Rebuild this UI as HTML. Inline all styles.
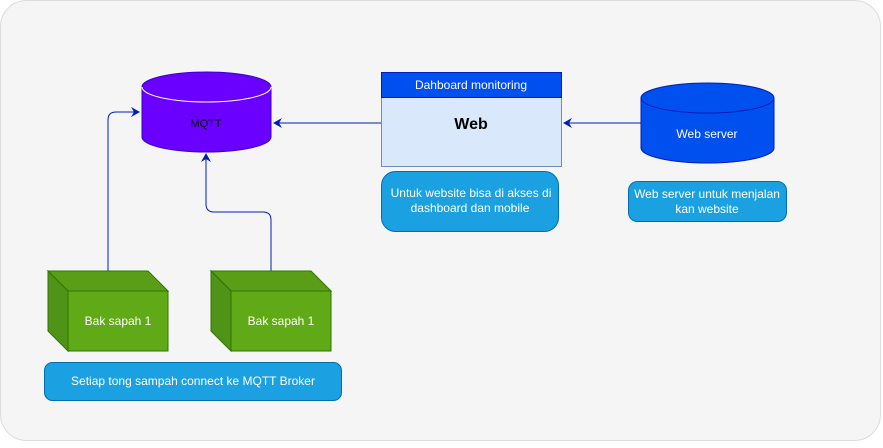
<!DOCTYPE html>
<html><head><style>
body{margin:0;width:883px;height:443px;background:#fff;overflow:hidden}
svg text{font-family:"Liberation Sans",Arial,sans-serif}
</style></head><body>
<svg width="883" height="443" xmlns="http://www.w3.org/2000/svg">
<defs><marker id="a" markerWidth="10" markerHeight="10" refX="8" refY="5" orient="auto" markerUnits="userSpaceOnUse"><path d="M0,0 L9,5 L0,10 L3,5 Z" fill="#001DBC"/></marker></defs>
<rect x="0.5" y="0.5" width="880" height="440" rx="26" fill="#f5f5f5" stroke="#dcdcdc"/>
<!-- MQTT -->
<path d="M142,87 A64.5,15 0 0 1 271,87 L271,137 A64.5,15 0 0 1 142,137 Z" fill="#6a00ff" stroke="#3700CC"/>
<path d="M142,87 A64.5,15 0 0 0 271,87" fill="none" stroke="#fff" stroke-width="1"/>
<text x="206" y="127" font-size="11" text-anchor="middle" fill="#000">MQTT</text>
<!-- connectors -->
<path d="M108,271 L108,120 Q108,112 116,112 L139,112" fill="none" stroke="#001DBC" stroke-width="1" marker-end="url(#a)"/>
<path d="M271,271 L271,220 Q271,212 263,212 L214,212 Q206,212 206,204 L206,154" fill="none" stroke="#001DBC" stroke-width="1" marker-end="url(#a)"/>
<path d="M381,123 L274,123" fill="none" stroke="#001DBC" stroke-width="1" marker-end="url(#a)"/>
<path d="M641,123 L564,123" fill="none" stroke="#001DBC" stroke-width="1" marker-end="url(#a)"/>
<!-- boxes -->
<g stroke="#2D7600">
<path d="M48,271 L148,271 L168,291 L68,291 Z" fill="#5a9e18"/>
<path d="M48,271 L68,291 L68,351 L48,331 Z" fill="#4f9416"/>
<rect x="68" y="291" width="100" height="60" fill="#60a917"/>
<path d="M211,271 L311,271 L331,291 L231,291 Z" fill="#5a9e18"/>
<path d="M211,271 L231,291 L231,351 L211,331 Z" fill="#4f9416"/>
<rect x="231" y="291" width="100" height="60" fill="#60a917"/>
</g>
<text x="118" y="325" font-size="12" text-anchor="middle" fill="#fff">Bak sapah 1</text>
<text x="281" y="325" font-size="12" text-anchor="middle" fill="#fff">Bak sapah 1</text>
<rect x="44.5" y="362.5" width="297" height="38" rx="8" fill="#1ba1e2" stroke="#006EAF"/>
<text x="193" y="385" font-size="12" text-anchor="middle" fill="#fff">Setiap tong sampah connect ke MQTT Broker</text>
<!-- Web -->
<rect x="381.5" y="72.5" width="180" height="94" fill="#dae8fc" stroke="#6c8ebf"/>
<rect x="381.5" y="72.5" width="180" height="25" fill="#0050ef" stroke="#001DBC"/>
<text x="471" y="89" font-size="12" text-anchor="middle" fill="#fff">Dahboard monitoring</text>
<text x="471" y="129" font-size="16" font-weight="bold" text-anchor="middle" fill="#000">Web</text>
<rect x="381.5" y="171.5" width="177" height="60" rx="14" fill="#1ba1e2" stroke="#006EAF"/>
<text x="471" y="197" font-size="12" text-anchor="middle" fill="#fff">Untuk website bisa di akses di</text>
<text x="470" y="212" font-size="12" text-anchor="middle" fill="#fff">dashboard dan mobile</text>
<!-- Web server -->
<path d="M641,98 A66.5,15 0 0 1 774,98 L774,148 A66.5,15 0 0 1 641,148 Z" fill="#0050ef" stroke="#001DBC"/>
<path d="M641,98 A66.5,15 0 0 0 774,98" fill="none" stroke="#001DBC"/>
<text x="707" y="138" font-size="12" text-anchor="middle" fill="#fff">Web server</text>
<rect x="628.5" y="181.5" width="158" height="40" rx="9" fill="#1ba1e2" stroke="#006EAF"/>
<text x="707" y="198" font-size="12" text-anchor="middle" fill="#fff">Web server untuk menjalan</text>
<text x="707" y="213" font-size="12" text-anchor="middle" fill="#fff">kan website</text>
</svg>
</body></html>
